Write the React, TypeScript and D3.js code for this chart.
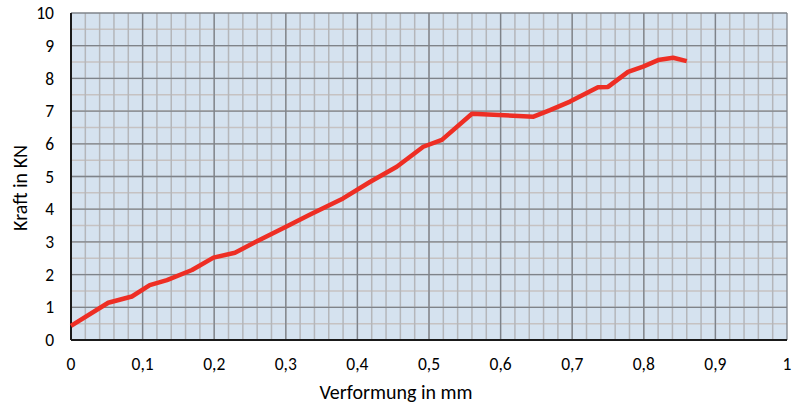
import { useEffect, useRef } from 'react';
import * as d3 from 'd3';

// Verformung (mm) und Kraft (kN)
const verformung = [0, 0.052, 0.085, 0.11, 0.134, 0.169, 0.199, 0.229, 0.259, 0.301, 0.334, 0.38, 0.418, 0.455, 0.492, 0.518, 0.56, 0.646, 0.669, 0.697, 0.736, 0.75, 0.778, 0.799, 0.82, 0.841, 0.86];
const kraft = [0.43, 1.14, 1.33, 1.68, 1.83, 2.14, 2.52, 2.67, 3.01, 3.47, 3.84, 4.33, 4.84, 5.3, 5.91, 6.12, 6.92, 6.83, 7.03, 7.29, 7.73, 7.74, 8.2, 8.36, 8.56, 8.63, 8.53];
const xTicks = [0, 0.1, 0.2, 0.3, 0.4, 0.5, 0.6, 0.7, 0.8, 0.9, 1];
const yTicks = [0, 1, 2, 3, 4, 5, 6, 7, 8, 9, 10];

const App = () => {
    const ref = useRef(null);

    useEffect(() => {
        const svg = d3.select(ref.current);
        svg.selectAll('*').remove();
        const width = 803;
        const height = 403;
        const margin = { top: 13, right: 16, bottom: 63, left: 71 };
        const font = 'Carlito, Calibri, "Open Sans", sans-serif';

        const x = d3.scaleLinear().domain([0, 1]).range([margin.left, width - margin.right]);
        const y = d3.scaleLinear().domain([0, 10]).range([height - margin.bottom, margin.top]);

        svg.append('rect')
            .attr('x', x(0)).attr('y', y(10))
            .attr('width', x(1) - x(0)).attr('height', y(0) - y(10))
            .attr('fill', '#d5e2ef');

        const minorX = d3.range(0, 50).map(i => i / 50);
        const minorY = d3.range(0, 20).map(i => i / 2);

        svg.append('g').selectAll('line').data(minorY).enter().append('line')
            .attr('x1', x(0)).attr('x2', x(1))
            .attr('y1', d => y(d)).attr('y2', d => y(d))
            .attr('stroke', '#c6c2c2').attr('stroke-width', 1.5);
        svg.append('g').selectAll('line').data(minorX).enter().append('line')
            .attr('y1', y(0)).attr('y2', y(10))
            .attr('x1', d => x(d)).attr('x2', d => x(d))
            .attr('stroke', '#b4b6ba').attr('stroke-width', 1.5);

        svg.append('g').selectAll('line').data(yTicks).enter().append('line')
            .attr('x1', x(0)).attr('x2', x(1))
            .attr('y1', d => y(d)).attr('y2', d => y(d))
            .attr('stroke', '#7e838a').attr('stroke-width', 1.3);
        svg.append('g').selectAll('line').data(xTicks).enter().append('line')
            .attr('y1', y(0)).attr('y2', y(10))
            .attr('x1', d => x(d)).attr('x2', d => x(d))
            .attr('stroke', '#7e838a').attr('stroke-width', 1.3);

        // Achsen
        svg.append('line')
            .attr('x1', x(0)).attr('x2', x(0)).attr('y1', y(10)).attr('y2', y(0))
            .attr('stroke', '#1a1a1a').attr('stroke-width', 2);
        svg.append('line')
            .attr('x1', x(0)).attr('x2', x(1)).attr('y1', y(0)).attr('y2', y(0))
            .attr('stroke', '#1a1a1a').attr('stroke-width', 2);

        svg.append('g').selectAll('text').data(yTicks).enter().append('text')
            .attr('x', x(0) - 17).attr('y', d => y(d))
            .attr('dy', '0.35em').attr('text-anchor', 'end')
            .attr('font-family', font).attr('font-size', 17.5).attr('fill', '#000')
            .text(d => String(d));
        svg.append('g').selectAll('text').data(xTicks).enter().append('text')
            .attr('x', d => x(d)).attr('y', y(0) + 30)
            .attr('text-anchor', 'middle')
            .attr('font-family', font).attr('font-size', 17.5).attr('fill', '#000')
            .text(d => String(d).replace('.', ','));

        svg.append('text')
            .attr('x', 396).attr('y', height - 4)
            .attr('text-anchor', 'middle')
            .attr('font-family', font).attr('font-size', 20).attr('fill', '#000')
            .text('Verformung in mm');
        svg.append('text')
            .attr('transform', `translate(27,188) rotate(-90)`)
            .attr('text-anchor', 'middle')
            .attr('font-family', font).attr('font-size', 20).attr('fill', '#000')
            .text('Kraft in KN');

        const line = d3.line<number>()
            .x((d, i) => x(verformung[i]))
            .y(d => y(d));
        svg.append('path')
            .datum(kraft)
            .attr('d', line)
            .attr('fill', 'none')
            .attr('stroke', '#ee2e24')
            .attr('stroke-width', 4.5)
            .attr('stroke-linejoin', 'round');
    }, []);

    return (
        <svg ref={ref} width={803} height={403} style={{ position: 'absolute', left: 0, top: 0, background: '#fff' }} />
    );
};

export default App;
